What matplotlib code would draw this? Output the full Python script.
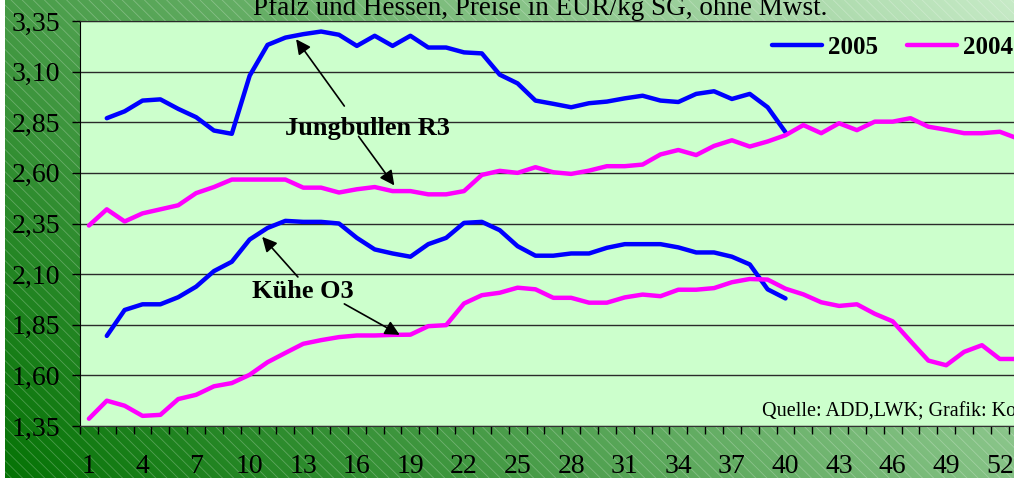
import numpy as np
import matplotlib
matplotlib.use("Agg")
import matplotlib.pyplot as plt
from matplotlib.patches import Rectangle

plt.rcParams['font.family'] = ['Liberation Serif', 'DejaVu Serif']
plt.rcParams['hatch.linewidth'] = 0.6

# ---------------- data ----------------
title = "Pfalz und Hessen, Preise in EUR/kg SG, ohne Mwst."
source = "Quelle: ADD,LWK; Grafik: Ko"
series_labels = ["2005", "2004"]
label_jb = "Jungbullen R3"
label_kuehe = "Kühe O3"

weeks_2004 = list(range(1, 54))
weeks_2005 = list(range(2, 41))

jb_2004 = [2.34, 2.42, 2.36, 2.40, 2.42, 2.44, 2.50, 2.53, 2.567, 2.567,
           2.567, 2.567, 2.527, 2.527, 2.503, 2.519, 2.53, 2.51, 2.51, 2.494,
           2.494, 2.51, 2.59, 2.61, 2.60, 2.628, 2.603, 2.595, 2.611, 2.633,
           2.633, 2.641, 2.691, 2.713, 2.688, 2.733, 2.761, 2.73, 2.755, 2.786,
           2.836, 2.796, 2.845, 2.811, 2.853, 2.853, 2.87, 2.828, 2.813, 2.796,
           2.796, 2.803, 2.77]
jb_2005 = [2.87, 2.904, 2.957, 2.963, 2.916, 2.875, 2.809, 2.793, 3.08, 3.232,
           3.268, 3.285, 3.298, 3.282, 3.227, 3.277, 3.227, 3.277, 3.219, 3.219,
           3.195, 3.19, 3.085, 3.042, 2.957, 2.941, 2.924, 2.944, 2.952, 2.968,
           2.981, 2.957, 2.95, 2.99, 3.003, 2.965, 2.99, 2.924, 2.801]
kuehe_2004 = [1.386, 1.475, 1.45, 1.40, 1.405, 1.483, 1.504, 1.546, 1.562, 1.603,
              1.665, 1.711, 1.756, 1.774, 1.789, 1.797, 1.797, 1.80, 1.801, 1.843,
              1.848, 1.955, 1.996, 2.008, 2.033, 2.025, 1.983, 1.983, 1.959, 1.959,
              1.985, 1.999, 1.991, 2.023, 2.023, 2.031, 2.06, 2.076, 2.073, 2.028,
              2.00, 1.961, 1.943, 1.951, 1.904, 1.867, 1.769, 1.673, 1.65, 1.716,
              1.749, 1.681, 1.681]
kuehe_2005 = [1.795, 1.923, 1.951, 1.951, 1.986, 2.038, 2.115, 2.161, 2.271, 2.328,
              2.363, 2.358, 2.358, 2.35, 2.279, 2.222, 2.202, 2.186, 2.248, 2.279,
              2.353, 2.358, 2.317, 2.238, 2.191, 2.191, 2.202, 2.202, 2.23, 2.248,
              2.248, 2.248, 2.232, 2.207, 2.207, 2.186, 2.148, 2.025, 1.98]

x_tick_values = [1, 4, 7, 10, 13, 16, 19, 22, 25, 28, 31, 34, 37, 40, 43, 46, 49, 52]
y_tick_values = [1.35, 1.60, 1.85, 2.10, 2.35, 2.60, 2.85, 3.10, 3.35]
y_tick_labels = ["1,35", "1,60", "1,85", "2,10", "2,35", "2,60", "2,85", "3,10", "3,35"]

# annotation arrows: (text/tail position, arrow tip) in data coords
jb_text_pos = (16.6, 2.789)
jb_arrows = [((15.3, 2.93), (12.6, 3.26)), ((16.1, 2.78), (18.1, 2.538))]
ku_text_pos = (13.0, 1.984)
ku_arrows = [((12.7, 2.086), (10.7, 2.284)), ((15.3, 1.953), (18.4, 1.80))]

BLUE = "#0000FF"
MAGENTA = "#FF00FF"

# ---------------- figure ----------------
W, H, DPI = 1014, 478, 100
fig = plt.figure(figsize=(W / DPI, H / DPI), dpi=DPI)
fig.patch.set_facecolor("white")

# background gradient with diagonal stripes
bg = fig.add_axes([5 / W, 0, 1 - 5 / W, 1], zorder=0)
bg.set_axis_off()
yy, xx = np.mgrid[0:1:240j, 0:1:500j]
t = np.clip(0.66 * xx + 0.34 * (1 - yy), 0, 1)
c0 = np.array([0.02, 0.45, 0.02])
c1 = np.array([0.78, 0.92, 0.78])
img = c0[None, None, :] * (1 - t[..., None]) + c1[None, None, :] * t[..., None]
bg.imshow(img, extent=[0, 1, 0, 1], aspect="auto", origin="upper")
bg.add_patch(Rectangle((0, 0), 1, 1, transform=bg.transAxes, facecolor="none",
                       edgecolor="white", hatch="\\\\\\", lw=0, alpha=0.25))
bg.set_xlim(0, 1)
bg.set_ylim(0, 1)

ax = fig.add_axes([80 / W, 52 / H, 946.6 / W, 405 / H], zorder=1)
ax.set_facecolor("#CCFFCC")
ax.set_xlim(0.5, 53.5)
ax.set_ylim(1.35, 3.35)

ax.set_yticks(y_tick_values)
ax.set_yticklabels(y_tick_labels)
ax.yaxis.grid(True, color="#2a2a2a", lw=1.0)
ax.set_axisbelow(True)

ax.set_xticks(x_tick_values)
ax.set_xticklabels([str(v) for v in x_tick_values])
ax.set_xticks(np.arange(0.5, 54, 1), minor=True)
ax.tick_params(axis="x", which="major", length=0, pad=20, labelsize=20)
ax.tick_params(axis="x", which="minor", length=6, width=1, color="black", direction="out")
ax.tick_params(axis="y", which="major", length=6, width=1, pad=8, labelsize=20, direction="out")

ax.spines["right"].set_visible(False)
ax.spines["top"].set_color("#2a2a2a")
ax.spines["left"].set_color("black")
ax.spines["bottom"].set_color("#333333")

lkw = dict(lw=3.2, solid_joinstyle="round", solid_capstyle="round")
ax.plot(weeks_2005, jb_2005, color=BLUE, label=series_labels[0], **lkw)
ax.plot(weeks_2004, jb_2004, color=MAGENTA, label=series_labels[1], **lkw)
ax.plot(weeks_2005, kuehe_2005, color=BLUE, **lkw)
ax.plot(weeks_2004, kuehe_2004, color=MAGENTA, **lkw)

ax.text(*jb_text_pos, label_jb, ha="center", va="baseline", fontsize=19, fontweight="bold")
ax.text(*ku_text_pos, label_kuehe, ha="center", va="baseline", fontsize=19, fontweight="bold")
akw = dict(arrowstyle="-|>", color="black", lw=1.2, mutation_scale=22, shrinkA=0, shrinkB=0)
for tail, tip in jb_arrows + ku_arrows:
    ax.annotate("", xy=tip, xytext=tail, arrowprops=akw)

leg = fig.legend(loc="center left", bbox_to_anchor=(772 / W, 1 - 47 / H), ncol=2,
                 frameon=False, borderpad=0, borderaxespad=0, handlelength=2.0,
                 handletextpad=0.25, columnspacing=1.15,
                 prop=dict(size=18, weight="bold"))

fig.text(540 / W, 1 - 15 / H, title, ha="center", va="baseline", fontsize=19.5)
fig.text(762 / W, 1 - 416.5 / H, source, ha="left", va="baseline", fontsize=14.5)

fig.savefig("out.png", dpi=DPI)
